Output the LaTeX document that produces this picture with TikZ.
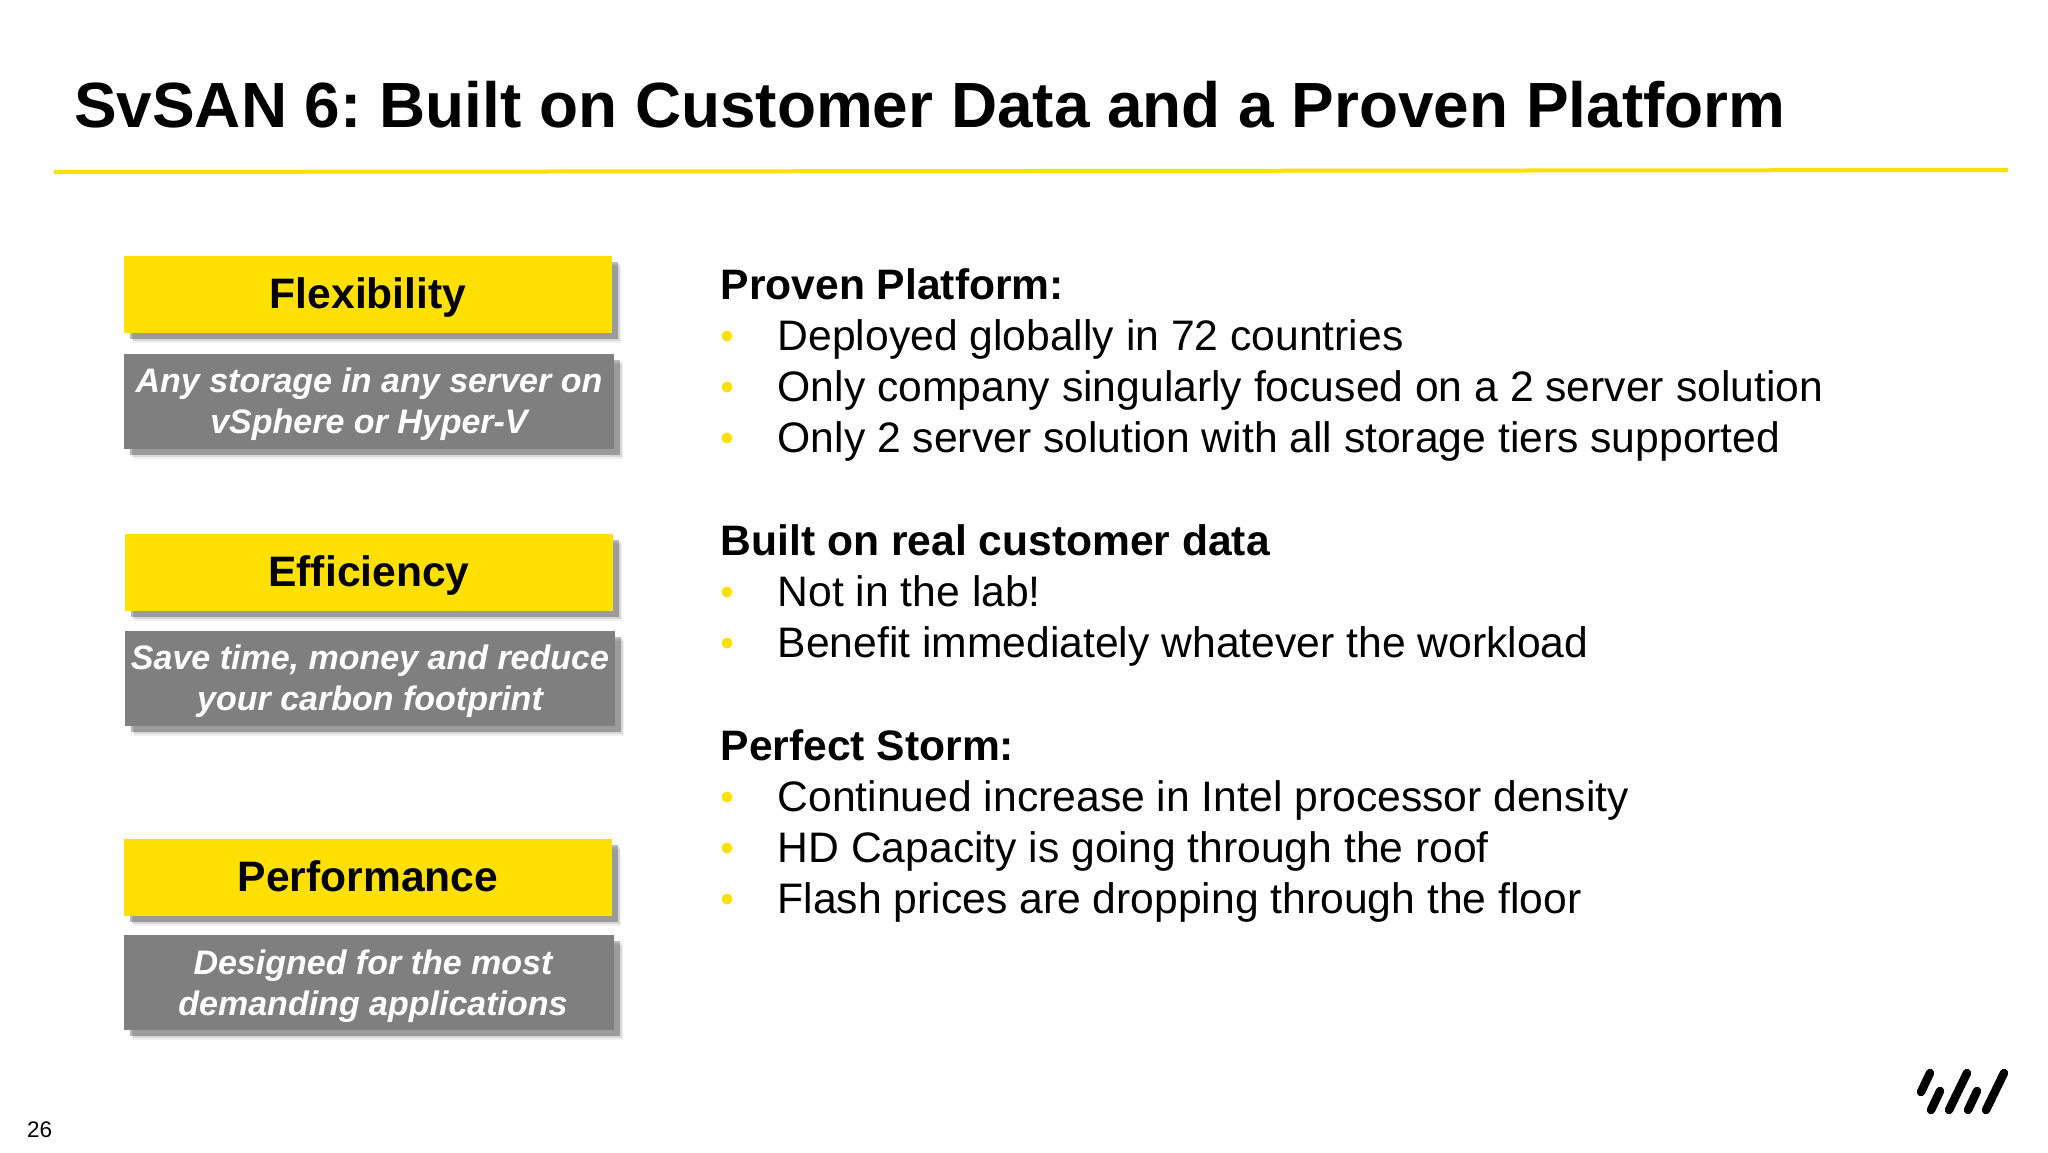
\documentclass[tikz,border=0pt]{standalone}
\usepackage{fontspec}
\setmainfont{Liberation Sans}
\usetikzlibrary{shadows}
\definecolor{brandyellow}{HTML}{FFE000}
\definecolor{boxgray}{HTML}{7F7F7F}
\newcommand{\liftline}{\rule{0pt}{32pt}}
\newcommand{\liftlinelow}{\rule{0pt}{34pt}}
\frenchspacing
\tikzset{
  softshadow/.style={
    general shadow={fill=black,opacity=.06,shadow xshift=9pt,shadow yshift=-10pt},
    general shadow={fill=black,opacity=.10,shadow xshift=8pt,shadow yshift=-8pt},
    general shadow={fill=black,opacity=.28,shadow xshift=6pt,shadow yshift=-6pt}},
  headbox/.style={fill=brandyellow,softshadow,inner sep=0pt,minimum height=77pt,minimum width=488pt,
    text height=32pt,text depth=3pt,
    font=\fontsize{42.6}{48}\selectfont\bfseries,text=black},
  subbox/.style={fill=boxgray,softshadow,inner sep=0pt,minimum height=95pt,minimum width=490pt,align=center,
    font=\fontsize{34}{41}\selectfont\bfseries\itshape,text=white},
  titletext/.style={anchor=base west,inner sep=0pt,font=\fontsize{63.9}{70}\selectfont\bfseries},
  lead/.style={anchor=base west,inner sep=0pt,font=\fontsize{42.6}{48}\selectfont\bfseries},
  item/.style={anchor=base west,inner sep=0pt,font=\fontsize{42.65}{48}\selectfont},
  dotmark/.style={anchor=center,circle,fill=brandyellow,inner sep=0pt,minimum size=11pt},
  logostroke/.style={line width=8.5pt,line cap=round,black}
}
\begin{document}
\begin{tikzpicture}[x=1pt,y=-1pt]
\useasboundingbox (0,0) rectangle (2048,1152);
\fill[white] (0,0) rectangle (2048,1152);
\node[titletext] (title) at (74,127) {SvSAN 6: Built on Customer Data and a Proven Platform};
\coordinate (ruleL) at (54,172);
\coordinate (ruleR) at (2008,170);
\draw[brandyellow,line width=4pt] (ruleL) -- (ruleR);

\node[headbox] (h1) at (368,294) {Flexibility};
\node[subbox] (s1) at (369,401) {\liftline Any storage in any server on\\vSphere or Hyper-V};
\node[headbox] (h2) at (369,572) {Efficiency};
\node[subbox] (s2) at (370,678) {\liftline Save time, money and reduce\\your carbon footprint};
\node[headbox] (h3) at (368,877) {Performance};
\node[subbox] (s3) at (369,982) {\liftlinelow\hspace{8pt}Designed for the most\\\hspace{8pt}demanding applications};

\node[lead] (a0) at (720.5,299) {Proven Platform:};
\node[dotmark] (ad1) at (727,336) {};
\node[item] (a1) at (777.5,350.3) {Deployed globally in 72 countries};
\node[dotmark] (ad2) at (727,387) {};
\node[item] (a2) at (777.5,401.5) {Only company singularly focused on a 2 server solution};
\node[dotmark] (ad3) at (727,438) {};
\node[item] (a3) at (777.5,452.8) {Only 2 server solution with all storage tiers supported};

\node[lead] (b0) at (720.5,555) {Built on real customer data};
\node[dotmark] (bd1) at (727,592) {};
\node[item] (b1) at (777.5,606.3) {Not in the lab!};
\node[dotmark] (bd2) at (727,643) {};
\node[item] (b2) at (777.5,657.5) {Benefit immediately whatever the workload};

\node[lead] (c0) at (720.5,760) {Perfect Storm:};
\node[dotmark] (cd1) at (727,797) {};
\node[item] (c1) at (777.5,811.3) {Continued increase in Intel processor density};
\node[dotmark] (cd2) at (727,848) {};
\node[item] (c2) at (777.5,862.5) {HD Capacity is going through the roof};
\node[dotmark] (cd3) at (727,899) {};
\node[item] (c3) at (777.5,913.8) {Flash prices are dropping through the floor};

\node[anchor=base west,inner sep=0pt,font=\fontsize{22.5}{26}\selectfont] (pg) at (27,1137) {26};

\draw[logostroke] (1930,1073) -- (1921,1092);
\draw[logostroke] (1940,1091) -- (1931,1110);
\draw[logostroke] (1967,1073) -- (1949,1110);
\draw[logostroke] (1977,1091) -- (1968,1110);
\draw[logostroke] (2004,1073) -- (1986,1110);
\end{tikzpicture}
\end{document}
